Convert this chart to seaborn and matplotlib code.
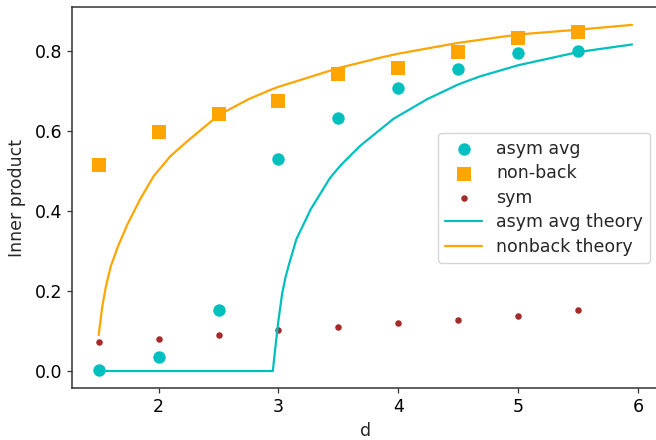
import numpy as np
import pandas as pd
import matplotlib
matplotlib.use("Agg")
import matplotlib.pyplot as plt
import seaborn as sns

# measured points
d_vals = [1.5, 2.0, 2.5, 3.0, 3.5, 4.0, 4.5, 5.0, 5.5]
asym_avg = [0.002, 0.035, 0.152, 0.530, 0.633, 0.708, 0.756, 0.795, 0.800]
non_back = [0.515, 0.598, 0.642, 0.675, 0.742, 0.757, 0.799, 0.833, 0.848]
sym = [0.072, 0.080, 0.091, 0.103, 0.110, 0.120, 0.128, 0.138, 0.152]

# theory curves
asym_theory_d = [1.5, 2.953, 2.975, 3.0, 3.03, 3.06, 3.09, 3.15, 3.27, 3.43,
                 3.52, 3.68, 3.96, 4.24, 4.5, 4.68, 5.0, 5.5, 5.95]
asym_theory_y = [0.0, 0.0, 0.061, 0.127, 0.192, 0.236, 0.269, 0.330, 0.405, 0.483,
                 0.515, 0.563, 0.631, 0.680, 0.717, 0.737, 0.765, 0.798, 0.817]
nonback_theory_d = [1.5, 1.53, 1.56, 1.6, 1.66, 1.74, 1.85, 1.96, 2.1, 2.24,
                    2.5, 2.75, 2.93, 3.0, 3.5, 3.85, 4.0, 4.5, 5.0, 5.5, 5.95]
nonback_theory_y = [0.09, 0.161, 0.211, 0.261, 0.311, 0.367, 0.432, 0.488, 0.538, 0.575,
                    0.640, 0.680, 0.703, 0.711, 0.758, 0.784, 0.794, 0.821, 0.842, 0.854, 0.866]

CYAN = '#00BFBF'
ORANGE = '#FFA500'
BROWN = '#A52A2A'

sns.set_theme(style="ticks", context="notebook")
plt.rcParams['font.family'] = ['DejaVu Sans']
FS = 12.5
plt.rcParams.update({
    'axes.edgecolor': '#333333',
    'axes.linewidth': 1.1,
    'xtick.major.size': 3.5,
    'ytick.major.size': 3.5,
    'xtick.major.width': 0.9,
    'ytick.major.width': 0.9,
    'xtick.color': '#333333',
    'ytick.color': '#333333',
    'xtick.labelcolor': 'black',
    'ytick.labelcolor': 'black',
    'xtick.labelsize': FS,
    'ytick.labelsize': FS,
    'axes.labelsize': FS,
    'legend.fontsize': FS,
})

fig = plt.figure(figsize=(6.56, 4.40), dpi=100)
ax = fig.add_axes([72/656, (440-388.3)/440, (658.7-72)/656, (388.3-7.3)/440])

sns.scatterplot(x=d_vals, y=asym_avg, color=CYAN, marker='o', s=80, linewidth=0,
                label='asym avg', ax=ax)
sns.scatterplot(x=d_vals, y=non_back, color=ORANGE, marker='s', s=92, linewidth=0,
                label='non-back', ax=ax)
sns.scatterplot(x=d_vals, y=sym, color=BROWN, marker='o', s=22, linewidth=0,
                label='sym', ax=ax)
sns.lineplot(x=asym_theory_d, y=asym_theory_y, color=CYAN, linewidth=1.6,
             label='asym avg theory', ax=ax, sort=False)
sns.lineplot(x=nonback_theory_d, y=nonback_theory_y, color=ORANGE, linewidth=1.6,
             label='nonback theory', ax=ax, sort=False)

ax.set_xlim(1.2775, 6.1725)
ax.set_ylim(-0.0433, 0.91)
ax.set_xticks([2, 3, 4, 5, 6])
ax.set_yticks([0.0, 0.2, 0.4, 0.6, 0.8])
ax.set_xlabel('d')
ax.set_ylabel('Inner product', labelpad=6)
ax.legend(loc='center right', frameon=True, labelspacing=0.38, handlelength=2.15)

fig.savefig('out.png', dpi=100)
